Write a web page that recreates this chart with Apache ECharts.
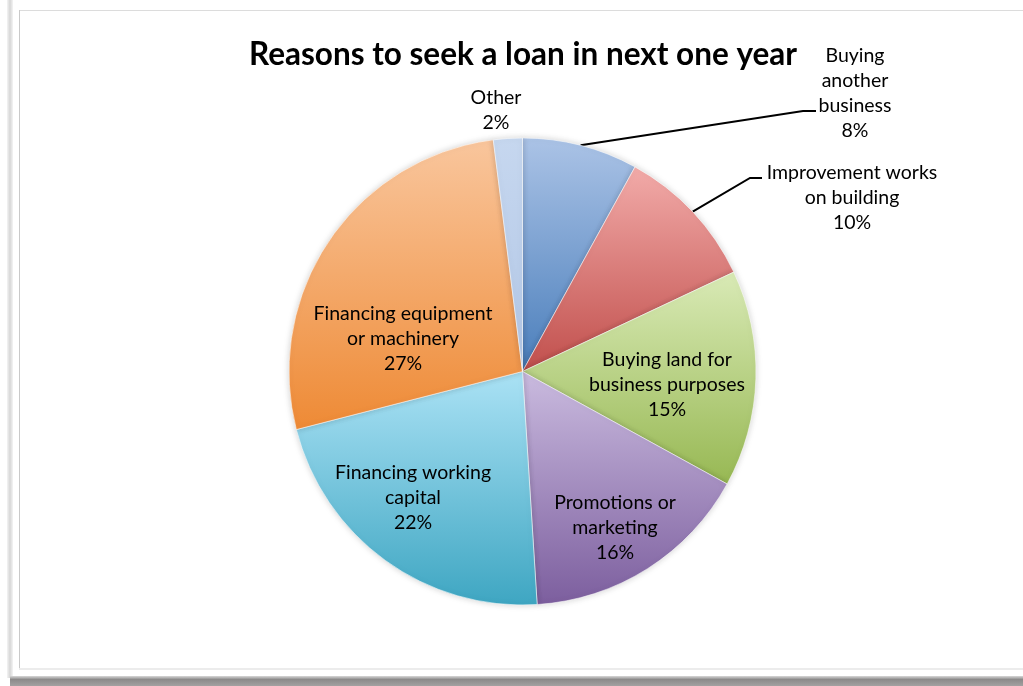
<!DOCTYPE html>
<html>
<head>
<meta charset="utf-8">
<title>Reasons to seek a loan in next one year</title>
<script src="https://cdn.jsdelivr.net/npm/echarts@6/dist/echarts.min.js"></script>
<style>
  html, body { margin: 0; padding: 0; background: #ffffff; }
  #chart { width: 1023px; height: 686px; }
</style>
</head>
<body>
<div id="chart"></div>
<script>
// Survey answers, in percent, clockwise from 12 o'clock
const categories = [
  'Buying\nanother\nbusiness',
  'Improvement works\non building',
  'Buying land for\nbusiness purposes',
  'Promotions or\nmarketing',
  'Financing working\ncapital',
  'Financing equipment\nor machinery',
  'Other'
];
const shares = [8, 10, 15, 16, 22, 27, 2];

// light (top) -> dark (bottom) fill for each slice
const palette = [
  ['#abc3e6', '#4a7ebb'],
  ['#f2aba9', '#c14f4c'],
  ['#d9eab6', '#97b853'],
  ['#cabbdf', '#7c5e9e'],
  ['#abe2f5', '#3ea6c2'],
  ['#f9c69d', '#ee8a35'],
  ['#c6d7ef', '#b2c7e6']
];

// where each label sits, and how its leader line bends
const labelSpots = [
  { x: 855, y: 93, bend: [[803, 111], [816, 111]] },
  { x: 852, y: 198, bend: [[750, 178], [762, 178]] },
  { x: 667, y: 385 },
  { x: 615, y: 528 },
  { x: 413, y: 498 },
  { x: 403, y: 339 },
  { x: 496, y: 110 }
];

const chart = echarts.init(document.getElementById('chart'), null, { renderer: 'canvas' });

const grad = (c) => new echarts.graphic.LinearGradient(0, 0, 0, 1, [
  { offset: 0, color: c[0] },
  { offset: 1, color: c[1] }
]);

const pieData = categories.map((name, i) => ({
  name,
  value: shares[i],
  itemStyle: { color: grad(palette[i]) },
  label: { position: (i <= 1 || i === 6) ? 'outside' : 'inside' },
  labelLine: { show: i <= 1 }
}));

const option = {
  backgroundColor: '#ffffff',
  animation: false,
  title: {
    text: 'Reasons to seek a loan in next one year',
    left: 518,
    top: 34,
    textAlign: 'center',
    textStyle: {
      fontFamily: 'Lato',
      fontWeight: 'bold',
      fontSize: 31.5,
      color: '#000000'
    }
  },
  graphic: [
    // photo-frame edges
    { type: 'rect', silent: true, shape: { x: 7, y: 0, width: 6, height: 678 },
      style: { fill: new echarts.graphic.LinearGradient(0, 0, 1, 0, [
        { offset: 0, color: '#f4f4f4' }, { offset: 0.5, color: '#d6d6d6' }, { offset: 1, color: '#f4f4f4' }]) } },
    { type: 'rect', silent: true, shape: { x: 19, y: 10, width: 1004, height: 1 }, style: { fill: '#dcdcdc' } },
    { type: 'rect', silent: true, shape: { x: 19, y: 10, width: 1, height: 659 }, style: { fill: '#c9c9c9' } },
    { type: 'rect', silent: true, shape: { x: 19, y: 668, width: 1004, height: 2 }, style: { fill: '#ececec' } },
    { type: 'rect', silent: true, shape: { x: 10, y: 676, width: 1013, height: 10 },
      style: { fill: new echarts.graphic.LinearGradient(0, 0, 0, 1, [
        { offset: 0, color: '#d8d8d8' }, { offset: 0.35, color: '#8c8a8a' }, { offset: 1, color: '#a3a1a1' }]) } }
  ],
  series: [{
    type: 'pie',
    center: [522.5, 371.5],
    radius: 233.5,
    startAngle: 90,
    clockwise: true,
    avoidLabelOverlap: false,
    data: pieData,
    itemStyle: {
      borderColor: 'rgba(255,255,255,0.55)',
      borderWidth: 1,
      shadowBlur: 6,
      shadowColor: 'rgba(0,0,0,0.18)'
    },
    label: {
      formatter: (p) => p.name + '\n' + p.value + '%',
      fontFamily: 'Lato',
      fontSize: 19.5,
      lineHeight: 25,
      color: '#000000',
      align: 'center'
    },
    labelLine: {
      length: 10,
      length2: 10,
      lineStyle: { color: '#000000', width: 2 }
    },
    emphasis: { disabled: true },
    labelLayout: (params) => {
      const spot = labelSpots[params.dataIndex];
      const out = { x: spot.x, y: spot.y, align: 'center', verticalAlign: 'middle' };
      if (spot.bend && params.labelLinePoints) {
        out.labelLinePoints = [params.labelLinePoints[0]].concat(spot.bend);
      }
      return out;
    }
  }]
};

chart.setOption(option);
</script>
</body>
</html>
